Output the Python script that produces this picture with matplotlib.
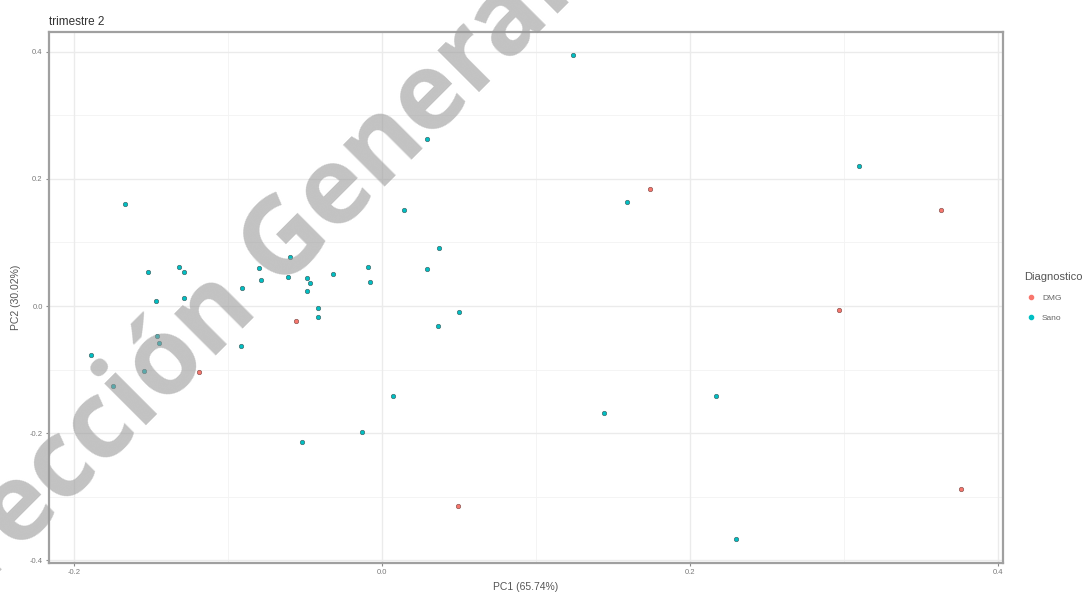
import math
import matplotlib
matplotlib.use("Agg")
import matplotlib.pyplot as plt
from matplotlib.lines import Line2D
from matplotlib.font_manager import FontProperties

# ---- data ----
sano_pc1 = [0.124, -0.167, 0.029, 0.310, 0.159, 0.014, 0.037, -0.152, -0.132, -0.129,
            -0.080, -0.079, -0.060, -0.061, -0.091, -0.049, -0.047, -0.049, -0.032, -0.009,
            -0.008, 0.029, -0.147, -0.129, -0.042, -0.042, 0.050, 0.036, -0.146, -0.145,
            -0.189, -0.092, -0.175, -0.155, 0.007, 0.144, 0.217, -0.013, -0.052, 0.230]
sano_pc2 = [0.395, 0.161, 0.263, 0.220, 0.164, 0.151, 0.091, 0.054, 0.061, 0.054,
            0.060, 0.041, 0.077, 0.046, 0.028, 0.044, 0.036, 0.024, 0.050, 0.061,
            0.038, 0.058, 0.008, 0.013, -0.003, -0.017, -0.009, -0.031, -0.047, -0.058,
            -0.077, -0.063, -0.126, -0.102, -0.142, -0.168, -0.142, -0.198, -0.213, -0.367]
dmg_pc1 = [0.174, 0.363, 0.297, -0.056, -0.119, 0.376, 0.049]
dmg_pc2 = [0.184, 0.151, -0.006, -0.024, -0.104, -0.287, -0.315]

groups = ["DMG", "Sano"]
group_colors = {"DMG": "#F8766D", "Sano": "#00BFC4"}

x_ticks = [-0.2, 0.0, 0.2, 0.4]
y_ticks = [-0.4, -0.2, 0.0, 0.2, 0.4]
x_minor = [-0.1, 0.1, 0.3]
y_minor = [-0.3, -0.1, 0.1, 0.3]

title = "trimestre 2"
xlabel = "PC1 (65.74%)"
ylabel = "PC2 (30.02%)"
legend_title = "Diagnostico"
watermark = "Dirección General"

plt.rcParams["font.family"] = ["Liberation Sans", "DejaVu Sans"]

W, H = 1088, 600
fig = plt.figure(figsize=(W / 100, H / 100), dpi=100)
L, R, T, B = 49, 1003, 32, 563
ax = fig.add_axes([L / W, (H - B) / H, (R - L) / W, (B - T) / H])

ax.set_xlim(-0.2165, 0.4035)
ax.set_ylim(-0.404, 0.431)

# grid
for v in x_minor:
    ax.axvline(v, color="#f3f3f3", lw=0.6, zorder=0)
for v in y_minor:
    ax.axhline(v, color="#f3f3f3", lw=0.6, zorder=0)
for v in x_ticks:
    ax.axvline(v, color="#ebebeb", lw=1.0, zorder=0)
for v in y_ticks:
    ax.axhline(v, color="#ebebeb", lw=1.0, zorder=0)

ax.scatter(dmg_pc1, dmg_pc2, s=10, color=group_colors["DMG"], edgecolors="#8a5552",
           linewidths=0.5, zorder=3)
ax.scatter(sano_pc1, sano_pc2, s=10, color=group_colors["Sano"], edgecolors="#3f6a6b",
           linewidths=0.5, zorder=3)

ax.set_xticks(x_ticks)
ax.set_xticklabels([f"{v:.1f}" for v in x_ticks])
ax.set_yticks(y_ticks)
ax.set_yticklabels([f"{v:.1f}" for v in y_ticks])
ax.tick_params(axis="both", labelsize=5.5, labelcolor="#7a7a7a", color="#8a8a8a",
               length=2.5, width=0.8, pad=2)

for s in ax.spines.values():
    s.set_color("#a0a0a0")
    s.set_linewidth(1.6)

ax.set_xlabel(xlabel, fontsize=7.5, color="#555555", labelpad=4)
ax.set_ylabel(ylabel, fontsize=7.5, color="#555555", labelpad=6)
ax.set_title(title, loc="left", fontsize=8.5, color="#333333", pad=5)

# legend
handles = [Line2D([0], [0], marker="o", linestyle="", markersize=3,
                  markerfacecolor=group_colors[g], markeredgecolor=group_colors[g])
           for g in groups]
leg = fig.legend(handles, groups, title=legend_title, loc="center left",
                 bbox_to_anchor=(1017 / W, 1 - 297 / H), frameon=False,
                 fontsize=6, title_fontsize=8, handletextpad=0.5,
                 labelspacing=1.5, handlelength=1.6)
for t in leg.get_texts():
    t.set_color("#666666")
leg.get_title().set_color("#555555")
leg._legend_box.align = "left"

# watermark: fit its position to two letters seen in the reference
wm_size = 77
wm_prop = FontProperties(family="Open Sans", weight="bold", size=wm_size)
renderer = fig.canvas.get_renderer()


def width(s):
    return renderer.get_text_width_height_descent(s, wm_prop, ismath=False)[0]


ang = 45
ca, sa = math.cos(math.radians(ang)), math.sin(math.radians(ang))
along = (ca, -sa)
up = (-sa, -ca)
half_xh = 0.535 * wm_size * 100 / 72 / 2
refs = [("Direc", "c", (109.0, 410.0)),          # second "c"
        ("Dirección G", "e", (344.0, 165.0))]    # "e" after "G"
starts = []
for prefix, letter, (cx, cy) in refs:
    a = width(prefix) + width(letter) / 2
    starts.append((cx - a * along[0] - half_xh * up[0],
                   cy - a * along[1] - half_xh * up[1]))
sx = sum(p[0] for p in starts) / len(starts) - 8
sy = sum(p[1] for p in starts) / len(starts) + 25
fig.text(sx / W, 1 - sy / H, watermark, fontproperties=wm_prop,
         color="#9a9a9a", alpha=0.6, rotation=ang, rotation_mode="anchor",
         ha="left", va="baseline", zorder=10)

fig.savefig("out.png", dpi=100)
